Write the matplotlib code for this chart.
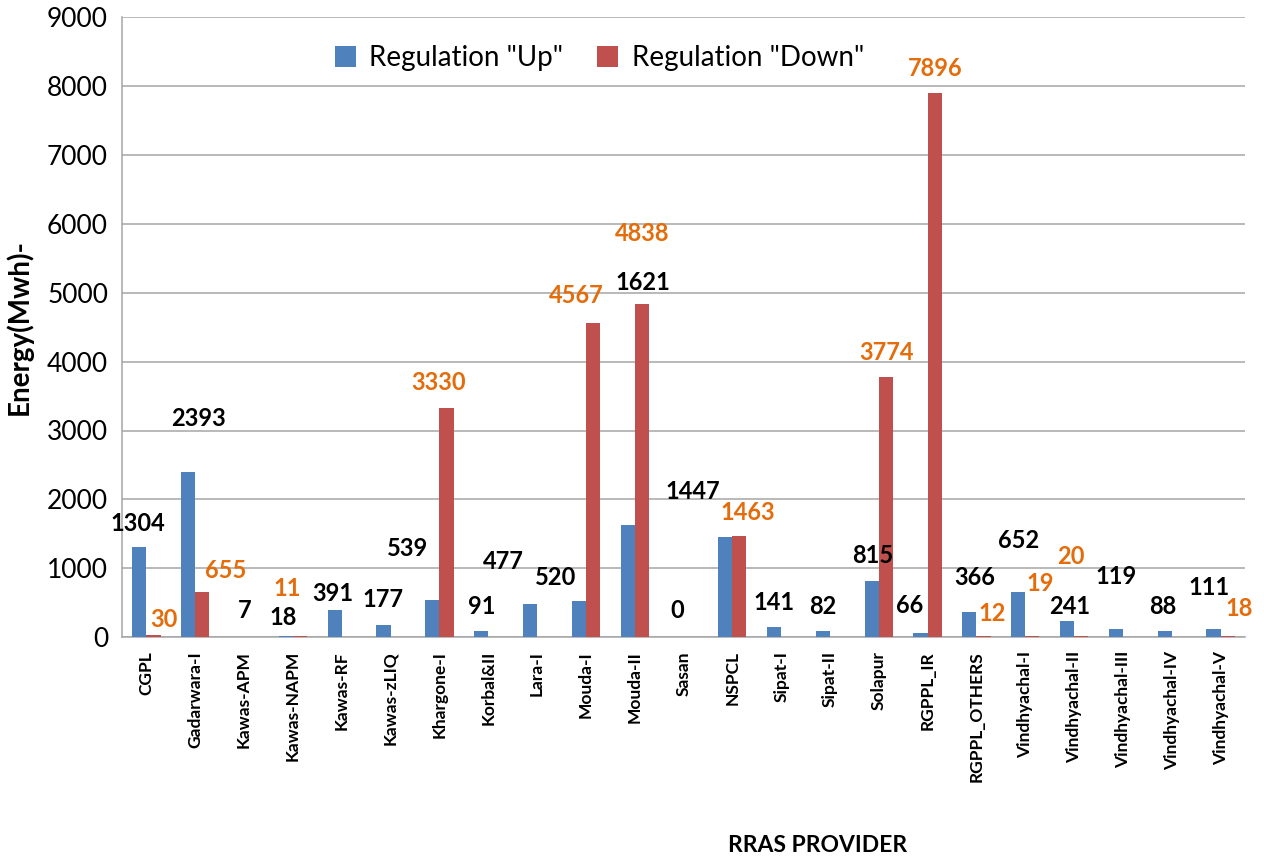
import matplotlib.pyplot as plt
import numpy as np

providers = ["CGPL", "Gadarwara-I", "Kawas-APM", "Kawas-NAPM", "Kawas-RF", "Kawas-zLIQ",
             "Khargone-I", "Korbal&II", "Lara-I", "Mouda-I", "Mouda-II", "Sasan", "NSPCL",
             "Sipat-I", "Sipat-II", "Solapur", "RGPPL_IR", "RGPPL_OTHERS", "Vindhyachal-I",
             "Vindhyachal-II", "Vindhyachal-III", "Vindhyachal-IV", "Vindhyachal-V"]
reg_up = [1304, 2393, 7, 18, 391, 177, 539, 91, 477, 520, 1621, 0, 1447,
          141, 82, 815, 66, 366, 652, 241, 119, 88, 111]
reg_down = [30, 655, 0, 11, 0, 0, 3330, 0, 0, 4567, 4838, 0, 1463,
            0, 0, 3774, 7896, 12, 19, 20, 0, 0, 18]

# where the labels were dragged to in the original (category units, energy units)
up_label_pos = [(-0.17, 1650), (1.06, 3170), (2.02, 390), (2.8, 290), (3.82, 640), (4.85, 550),
                (5.34, 1290), (6.86, 450), (7.31, 1100), (8.39, 860), (10.16, 5150), (10.87, 390),
                (11.2, 2120), (12.86, 510), (13.86, 450), (14.87, 1190), (15.63, 465), (16.96, 870),
                (17.86, 1410), (18.9, 450), (19.85, 885), (20.81, 450), (21.77, 725)]
down_label_pos = {0: (0.36, 260), 1: (1.63, 970), 3: (2.88, 700), 6: (5.98, 3700),
                  9: (8.8, 4960), 10: (10.16, 5860), 12: (12.31, 1810), 15: (15.16, 4130),
                  16: (16.16, 8260), 17: (17.33, 350), 18: (18.31, 785), 19: (18.93, 1175),
                  22: (22.37, 420)}

plt.rcParams['font.family'] = ['Lato', 'DejaVu Sans']

fig = plt.figure(figsize=(12.64, 8.61), dpi=100)
ax = fig.add_axes([0.0965, 0.26, 0.8885, 0.72])

x = np.arange(len(providers))
w = 0.29
ax.bar(x - w / 2, reg_up, w, color='#4F81BD', label='Regulation "Up"', zorder=3)
ax.bar(x + w / 2, reg_down, w, color='#C0504D', label='Regulation "Down"', zorder=3)

for i, v in enumerate(reg_up):
    px, py = up_label_pos[i]
    ax.text(px, py, str(v), ha='center', va='center', fontsize=17, fontweight='bold',
            color='black', zorder=4)
for i, (px, py) in down_label_pos.items():
    ax.text(px, py, str(reg_down[i]), ha='center', va='center', fontsize=17,
            fontweight='bold', color='#E46C0A', zorder=4)

ax.set_xlim(-0.5, len(providers) - 0.5)
ax.set_ylim(0, 9000)
ax.set_yticks(range(0, 9001, 1000))
ax.yaxis.grid(True, color='#A6A6A6', linewidth=1.1, zorder=0)
ax.set_xticks(x)
ax.set_xticklabels(providers, rotation=90, fontsize=12.5, fontweight='bold', va='top')
ax.tick_params(axis='y', labelsize=19, length=0, pad=10)
ax.tick_params(axis='x', length=0, pad=10)

for s in ['top', 'right']:
    ax.spines[s].set_visible(False)
for s in ['left', 'bottom']:
    ax.spines[s].set_color('#A6A6A6')
    ax.spines[s].set_linewidth(1.1)

ax.set_ylabel('Energy(Mwh)-', fontsize=20, fontweight='bold', labelpad=10)
fig.text(0.647, 0.018, 'RRAS PROVIDER', ha='center', va='center', fontsize=16.5, fontweight='bold')

ax.legend(loc='upper center', bbox_to_anchor=(0.425, 0.995), ncol=2, frameon=False,
          fontsize=20, handlelength=0.75, handleheight=0.75, columnspacing=1.2, handletextpad=0.5)

fig.savefig('out.png', dpi=100)
